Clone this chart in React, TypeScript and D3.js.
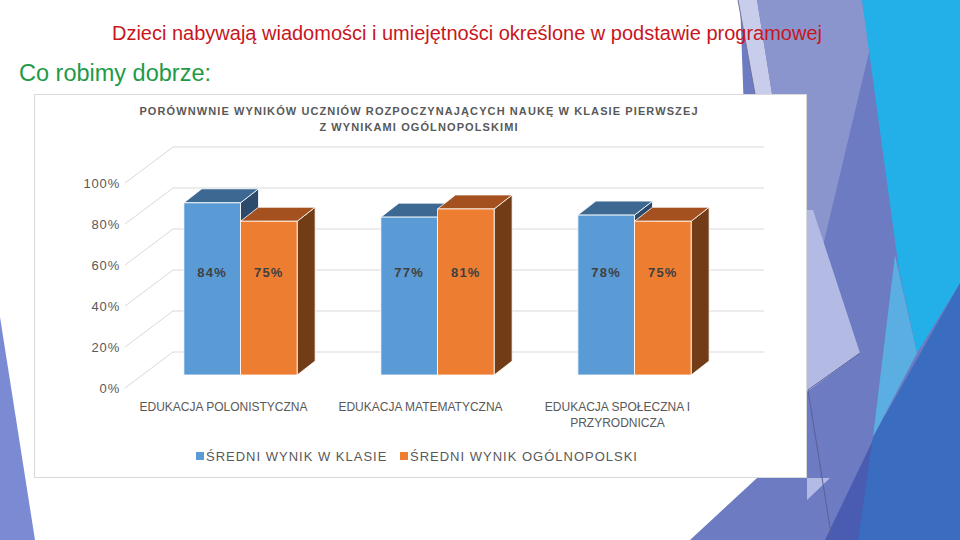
import React from 'react';
import * as d3 from 'd3';

// Chart data
const categories = ['POL', 'MAT', 'SPO'];
const categoryLines = [
  ['EDUKACJA POLONISTYCZNA'],
  ['EDUKACJA MATEMATYCZNA'],
  ['EDUKACJA SPOŁECZNA I', 'PRZYRODNICZA'],
];
const seriesNames = ['ŚREDNI WYNIK W KLASIE', 'ŚREDNI WYNIK OGÓLNOPOLSKI'];
const classScores = [0.84, 0.77, 0.78];
const nationalScores = [0.75, 0.81, 0.75];
const yTicks = [0, 0.2, 0.4, 0.6, 0.8, 1];
const titleLines = [
  'PORÓWNWNIE WYNIKÓW UCZNIÓW ROZPOCZYNAJĄCYCH NAUKĘ W KLASIE PIERWSZEJ',
  'Z WYNIKAMI OGÓLNOPOLSKIMI',
];

// Bar colours: front, top, side
const palette = [
  { front: '#5b9bd5', top: '#3c6891', side: '#2c4a6b' },
  { front: '#ed7d31', top: '#a4511f', side: '#713c16' },
];

// Background decoration of the slide (theme shapes)
const decoShapes: { pts: [number, number][]; fill: string }[] = [
  { pts: [[0, 317], [35, 540], [0, 540]], fill: '#7a8bd4' },
  { pts: [[740, 0], [960, 0], [960, 540], [690, 540], [757, 478]], fill: '#6c7bc2' },
  { pts: [[738, 0], [757, 0], [772, 94], [755, 94]], fill: '#c9cdec' },
  { pts: [[757, 0], [862, 0], [870, 48], [822, 250], [807, 250], [807, 94], [772, 94]], fill: '#8a95ce' },
  { pts: [[807, 210], [813, 210], [860, 353], [807, 392]], fill: '#b3bbe5' },
  { pts: [[807, 478], [830, 478], [807, 500]], fill: '#b3bbe5' },
  { pts: [[862, 0], [960, 0], [960, 283], [917, 353], [899, 270]], fill: '#23afe7' },
  { pts: [[895, 255], [917, 353], [873, 437]], fill: '#5aaee2' },
  { pts: [[885, 415], [825, 540], [870, 540]], fill: '#4a5bb2' },
  { pts: [[960, 283], [960, 540], [858, 540], [873, 437]], fill: '#3a6dc0' },
];

const font = '"Liberation Sans", Arial, sans-serif';

const App: React.FC = () => {
  // Front plane of the 3D plot and the depth vectors
  const plotLeft = 125;
  const plotRight = 716;
  const wall = { dx: 48, dy: -36 }; // front plane -> back wall
  const shift = { dx: 17, dy: -13 }; // front plane -> bar front faces
  const depth = { dx: 18, dy: -14 }; // bar thickness

  const y = d3.scaleLinear().domain([0, 1]).range([388, 183]);
  const x0 = d3.scaleBand<string>().domain(categories).range([plotLeft, plotRight]);
  const groupW = x0.bandwidth() * 0.575;
  const x1 = d3.scaleBand<string>().domain(seriesNames).range([0, groupW]);
  const pct = d3.format('.0%');

  const values = [classScores, nationalScores];

  const bars = categories.flatMap((c, ci) => seriesNames.map((s, si) => {
    const v = values[si][ci];
    const xl = (x0(c) ?? 0) + (x0.bandwidth() - groupW) / 2 + (x1(s) ?? 0) + shift.dx;
    const xr = xl + x1.bandwidth();
    const yt = y(v) + shift.dy;
    const yb = y(0) + shift.dy;
    return { key: `${c}-${s}`, si, v, xl, xr, yt, yb };
  }));

  const line = d3.line();

  return (
    <svg width={960} height={540} style={{ position: 'absolute', left: 0, top: 0, background: '#fff' }}>
      {decoShapes.map((d, i) => (
        <path key={i} d={`${line(d.pts)}Z`} fill={d.fill} />
      ))}
      <line x1={738} y1={0} x2={755} y2={94} stroke="#6f7596" strokeWidth={1} />
      <polyline points="860,353 808,390 832,540" fill="none" stroke="#5a6098" strokeWidth={1} />

      <text x={467} y={40} textAnchor="middle" fontFamily={font} fontSize={19.5} fill="#c8161d"
        textLength={710} lengthAdjust="spacingAndGlyphs">
        Dzieci nabywają wiadomości i umiejętności określone w podstawie programowej
      </text>
      <text x={19} y={81} fontFamily={font} fontSize={23.5} fill="#1f9a48">Co robimy dobrze:</text>

      {/* chart area */}
      <rect x={34.5} y={94.5} width={772} height={383} fill="#fff" stroke="#d9d9d9" />

      {titleLines.map((t, i) => (
        <text key={t} x={419} y={115 + i * 16} textAnchor="middle" fontFamily={font} fontWeight="bold"
          fontSize={11} fill="#595959" letterSpacing={1.1}>{t}</text>
      ))}

      {/* grid: side wall and back wall */}
      <g stroke="#d9d9d9" strokeWidth={1}>
        {yTicks.map((t) => (
          <g key={t}>
            <line x1={plotLeft} y1={y(t)} x2={plotLeft + wall.dx} y2={y(t) + wall.dy} />
            <line x1={plotLeft + wall.dx} y1={y(t) + wall.dy} x2={plotRight + wall.dx} y2={y(t) + wall.dy} />
          </g>
        ))}
      </g>

      {yTicks.map((t) => (
        <text key={t} x={120} y={y(t)} dy="0.35em" textAnchor="end" fontFamily={font} fontSize={13}
          fill="#595959" letterSpacing={0.8}>{pct(t)}</text>
      ))}

      {/* 3D bars */}
      {bars.map((b) => {
        const c = palette[b.si];
        return (
          <g key={b.key} stroke="#fff" strokeWidth={0.8} strokeLinejoin="round">
            <path fill={c.side} d={`M${b.xr},${b.yb}L${b.xr + depth.dx},${b.yb + depth.dy}L${b.xr + depth.dx},${b.yt + depth.dy}L${b.xr},${b.yt}Z`} />
            <path fill={c.top} d={`M${b.xl},${b.yt}L${b.xl + depth.dx},${b.yt + depth.dy}L${b.xr + depth.dx},${b.yt + depth.dy}L${b.xr},${b.yt}Z`} />
            <rect fill={c.front} x={b.xl} y={b.yt} width={b.xr - b.xl} height={b.yb - b.yt} />
          </g>
        );
      })}

      {bars.map((b) => (
        <text key={`l-${b.key}`} x={(b.xl + b.xr) / 2} y={y(0.5) + shift.dy} dy="0.35em" textAnchor="middle"
          fontFamily={font} fontWeight="bold" fontSize={13} fill="#404040" letterSpacing={1.2}>{pct(b.v)}</text>
      ))}

      {categories.map((c, i) => (
        <text key={c} textAnchor="middle" fontFamily={font} fontSize={12} fill="#595959">
          {categoryLines[i].map((l, li) => (
            <tspan key={l} x={(x0(c) ?? 0) + x0.bandwidth() / 2} y={411 + li * 16}>{l}</tspan>
          ))}
        </text>
      ))}

      {/* legend */}
      {seriesNames.map((s, i) => {
        const lx = [196, 400][i];
        return (
          <g key={s}>
            <rect x={lx} y={452} width={8} height={8} fill={palette[i].front} />
            <text x={lx + 10} y={456} dy="0.35em" fontFamily={font} fontSize={13} fill="#595959"
              letterSpacing={1}>{s}</text>
          </g>
        );
      })}
    </svg>
  );
};

export default App;
